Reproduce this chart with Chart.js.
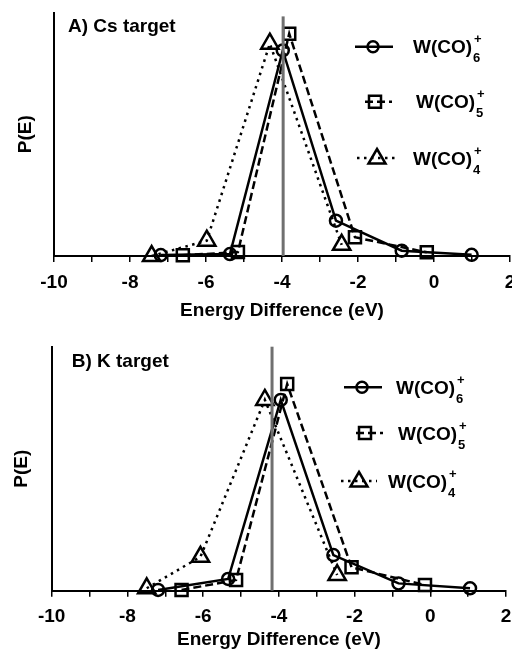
<!DOCTYPE html>
<html>
<head>
<meta charset="utf-8">
<script src="https://cdn.jsdelivr.net/npm/chart.js@4.4.0/dist/chart.umd.min.js"></script>
<style>
  html, body { margin: 0; padding: 0; background: #fff; }
  .panel { width: 512px; overflow: hidden; }
  #wrapA { height: 320px; }
  #wrapB { height: 329px; }
  canvas { display: block; }
</style>
</head>
<body>
<div class="panel" id="wrapA"><canvas id="chartA" width="540" height="320"></canvas></div>
<div class="panel" id="wrapB"><canvas id="chartB" width="540" height="329"></canvas></div>
<script>
// Data (x = energy difference in eV, y = P(E) in arbitrary units, axis top = 100)
const xTickLabels = [-10, -8, -6, -4, -2, 0, 2];
const seriesSub = ["6", "5", "4"];

// A) Cs target
const csHexX = [-7.19, -5.37, -3.98, -2.58, -0.85, 0.99];
const csHexY = [0.4, 0.8, 84.4, 14.5, 2.2, 0.5];
const csPentX = [-6.61, -5.16, -3.81, -2.08, -0.19];
const csPentY = [0.3, 1.6, 91.3, 7.7, 1.5];
const csTetX = [-7.43, -5.98, -4.32, -2.43];
const csTetY = [0.0, 6.3, 87.2, 4.6];
const csVline = -3.97;

// B) K target
const kHexX = [-7.19, -5.34, -3.95, -2.56, -0.84, 1.05];
const kHexY = [0.3, 4.8, 78.2, 14.6, 3.0, 1.0];
const kPentX = [-6.57, -5.13, -3.78, -2.08, -0.14];
const kPentY = [0.3, 4.4, 84.7, 9.6, 2.3];
const kTetX = [-7.49, -6.07, -4.37, -2.46];
const kTetY = [1.0, 13.9, 78.2, 6.4];
const kVline = -4.18;

const FONT = '"Liberation Sans", Arial, sans-serif';
const styles = [
  { pointStyle: "circle", pointRadius: 6, borderDash: [] },
  { pointStyle: "rect", pointRadius: 8.5, borderDash: [8, 4] },
  { pointStyle: "triangle", pointRadius: 10, borderDash: [2.5, 4.5] }
];

function pts(xs, ys) {
  return xs.map((x, i) => ({ x: x, y: ys[i] }));
}

function marker(ctx, style, x, y) {
  ctx.beginPath();
  if (style === "circle") {
    ctx.arc(x, y, 5.5, 0, Math.PI * 2);
  } else if (style === "rect") {
    ctx.rect(x - 6, y - 6, 12, 12);
  } else {
    ctx.moveTo(x, y - 9);
    ctx.lineTo(x + 8.5, y + 5.5);
    ctx.lineTo(x - 8.5, y + 5.5);
    ctx.closePath();
  }
  ctx.stroke();
}

// vertical reference line
const vlinePlugin = {
  id: "vline",
  afterDatasetsDraw(chart, args, opts) {
    const ctx = chart.ctx;
    const x = chart.scales.x.getPixelForValue(opts.value);
    const yTop = chart.scales.y.getPixelForValue(opts.top);
    ctx.save();
    ctx.strokeStyle = "#707070";
    ctx.lineWidth = 3;
    ctx.beginPath();
    ctx.moveTo(x, yTop);
    ctx.lineTo(x, chart.chartArea.bottom);
    ctx.stroke();
    ctx.restore();
  }
};

// panel label + legend with sub/superscripts
const legendPlugin = {
  id: "fancyLegend",
  afterDraw(chart, args, opts) {
    const ctx = chart.ctx;
    ctx.save();
    ctx.fillStyle = "#000";
    ctx.strokeStyle = "#000";
    ctx.textBaseline = "middle";
    ctx.textAlign = "left";
    ctx.font = "bold 19px " + FONT;
    ctx.fillText(opts.label, opts.labelX, opts.labelY);

    opts.items.forEach((it, i) => {
      const st = styles[i];
      ctx.lineWidth = 2.5;
      ctx.setLineDash(st.borderDash);
      ctx.beginPath();
      ctx.moveTo(it.x1, it.y);
      ctx.lineTo(it.x2, it.y);
      ctx.stroke();
      ctx.setLineDash([]);
      marker(ctx, st.pointStyle, it.mx, it.y);

      ctx.font = "bold 19px " + FONT;
      ctx.fillText("W(CO)", it.tx, it.y + 1.5);
      const w = ctx.measureText("W(CO)").width;
      ctx.font = "bold 13px " + FONT;
      ctx.fillText(seriesSub[i], it.tx + w + 1, it.y + 12);
      ctx.fillText("+", it.tx + w + 2, it.y - 7);
    });
    ctx.restore();
  }
};

function makeChart(id, series, vline, lay) {
  const datasets = series.map((s, i) => ({
    data: pts(s[0], s[1]),
    showLine: true,
    borderColor: "#000",
    borderWidth: 2.5,
    borderDash: styles[i].borderDash,
    pointStyle: styles[i].pointStyle,
    pointRadius: styles[i].pointRadius,
    pointBorderWidth: 2.5,
    pointBorderColor: "#000",
    pointBackgroundColor: "rgba(0,0,0,0)",
    tension: 0,
    clip: false
  }));

  return new Chart(document.getElementById(id), {
    type: "scatter",
    data: { datasets: datasets },
    options: {
      responsive: false,
      animation: false,
      layout: { padding: { top: lay.top, right: lay.right, left: 0, bottom: 0 } },
      plugins: {
        legend: { display: false },
        tooltip: { enabled: false },
        vline: { value: vline, top: lay.vTop },
        fancyLegend: lay.legend
      },
      scales: {
        x: {
          type: "linear",
          min: -10,
          max: 2,
          position: "bottom",
          afterFit: s => { s.height = lay.xHeight; },
          border: { display: true, color: "#000", width: 2 },
          grid: { drawOnChartArea: false, drawTicks: true, tickLength: 6, color: "#000", lineWidth: 1.5 },
          ticks: {
            stepSize: 1,
            autoSkip: false,
            maxRotation: 0,
            padding: 9,
            color: "#000",
            font: { family: FONT, size: 19, weight: "bold" },
            callback: v => (xTickLabels.includes(v) ? String(v) : "")
          },
          title: {
            display: true,
            text: "Energy Difference (eV)",
            color: "#000",
            font: { family: FONT, size: 19, weight: "bold" },
            padding: { top: 0, bottom: lay.xTitlePad }
          }
        },
        y: {
          min: 0,
          max: 100,
          afterFit: s => { s.width = lay.yWidth; },
          border: { display: true, color: "#000", width: 2 },
          grid: { display: false },
          ticks: { display: false },
          title: {
            display: true,
            text: "P(E)",
            color: "#000",
            font: { family: FONT, size: 19, weight: "bold" },
            padding: { top: lay.yTitlePad, bottom: 0 }
          }
        }
      }
    },
    plugins: [vlinePlugin, legendPlugin]
  });
}

makeChart("chartA",
  [[csHexX, csHexY], [csPentX, csPentY], [csTetX, csTetY]],
  csVline,
  {
    top: 12, right: 30, xHeight: 64, yWidth: 54, yTitlePad: 14, xTitlePad: -2, vTop: 98.4,
    legend: {
      label: "A) Cs target", labelX: 68, labelY: 27,
      items: [
        { x1: 355, x2: 393, mx: 373, y: 46.7, tx: 413 },
        { x1: 365, x2: 392, mx: 375, y: 101.7, tx: 416 },
        { x1: 357, x2: 395, mx: 377, y: 158, tx: 413 }
      ]
    }
  });

makeChart("chartB",
  [[kHexX, kHexY], [kPentX, kPentY], [kTetX, kTetY]],
  kVline,
  {
    top: 26.7, right: 34, xHeight: 58.3, yWidth: 51.7, yTitlePad: 10, xTitlePad: -2, vTop: 100,
    legend: {
      label: "B) K target", labelX: 71.7, labelY: 41.7,
      items: [
        { x1: 344, x2: 382, mx: 362, y: 67.3, tx: 396 },
        { x1: 356, x2: 383, mx: 365, y: 113, tx: 398 },
        { x1: 341, x2: 377, mx: 359, y: 161, tx: 388 }
      ]
    }
  });
</script>
</body>
</html>
